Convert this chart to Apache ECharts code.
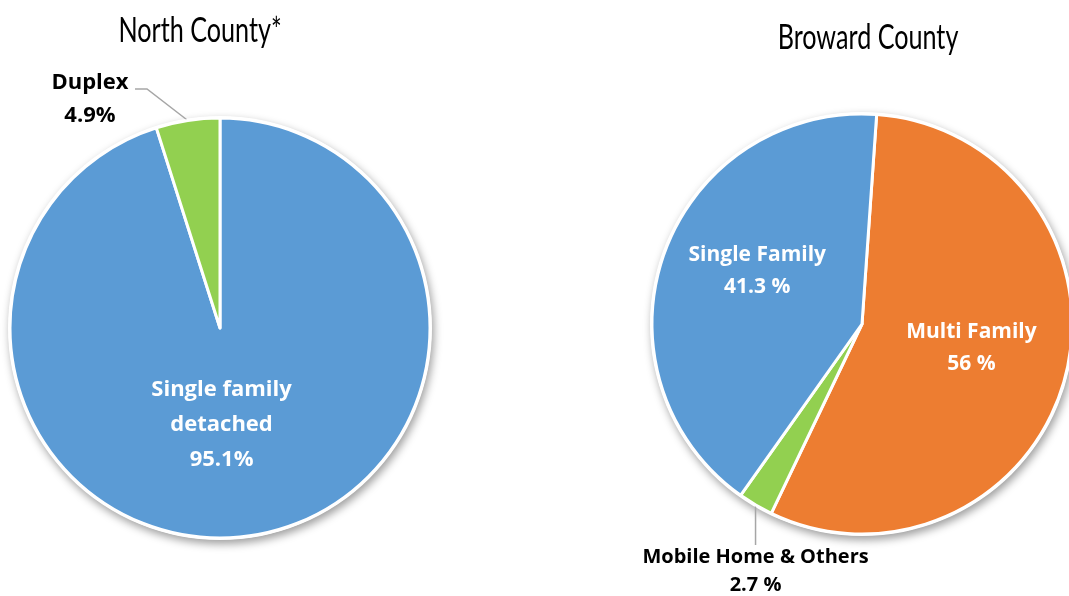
<!DOCTYPE html>
<html>
<head>
<meta charset="utf-8">
<script src="https://cdn.jsdelivr.net/npm/echarts@6/dist/echarts.min.js"></script>
<style>
  html, body { margin: 0; padding: 0; background: #ffffff; }
  #chart { width: 1069px; height: 596px; }
</style>
</head>
<body>
<div id="chart"></div>
<script>
// Housing type shares, North County vs Broward County
const northTitle = 'North County*';
const northCategories = ['Single family\ndetached', 'Duplex'];
const northValues = [95.1, 4.9];

const browardTitle = 'Broward County';
const browardCategories = ['Multi Family', 'Mobile Home & Others', 'Single Family'];
const browardValues = [56, 2.7, 41.3];

const BLUE = '#5B9BD5';
const ORANGE = '#ED7D31';
const GREEN = '#92D050';
const LEADER = '#A6A6A6';
const LABEL_FONT = '"Open Sans", Lato, "Noto Sans", sans-serif';
const TITLE_FONT = 'Lato, "Open Sans", sans-serif';

const northColors = [BLUE, GREEN];
const browardColors = [ORANGE, GREEN, BLUE];

const northCenter = [220, 328];
const browardCenter = [862, 324];
const pieRadius = 210;

// white disc with a soft drop shadow that sits behind each pie
function backing(center) {
  return {
    type: 'pie', silent: true, z: 1,
    center: center, radius: pieRadius + 2,
    label: { show: false }, labelLine: { show: false },
    emphasis: { disabled: true }, tooltip: { show: false },
    itemStyle: {
      color: '#ffffff',
      shadowBlur: 9, shadowColor: 'rgba(0,0,0,0.38)',
      shadowOffsetX: 2, shadowOffsetY: 4
    },
    data: [{ value: 1, name: '' }]
  };
}

// condensed heading drawn as a horizontally squeezed text element
function heading(text, x, y) {
  return {
    type: 'text', x: x, y: y, scaleX: 0.74, z: 10,
    style: {
      text: text, fontFamily: TITLE_FONT, fontSize: 34, fontWeight: 'normal',
      fill: '#000000', align: 'center', verticalAlign: 'middle'
    }
  };
}

const leaderLine = { show: true, lineStyle: { color: LEADER, width: 1.5 } };

const northData = northCategories.map((name, i) => {
  const item = { name: name, value: northValues[i], itemStyle: { color: northColors[i] } };
  if (name === 'Duplex') {
    item.label = { position: 'outside', color: '#000', fontSize: 22, lineHeight: 33 };
    item.labelLine = leaderLine;
  }
  return item;
});

const browardData = browardCategories.map((name, i) => {
  const item = { name: name, value: browardValues[i], itemStyle: { color: browardColors[i] } };
  if (name === 'Mobile Home & Others') {
    item.label = { position: 'outside', color: '#000', fontSize: 20, lineHeight: 28 };
    item.labelLine = leaderLine;
  }
  return item;
});

const chart = echarts.init(document.getElementById('chart'), null, { renderer: 'canvas' });

chart.setOption({
  backgroundColor: '#ffffff',
  animation: false,
  graphic: [
    heading(northTitle, 200, 31),
    heading(browardTitle, 868, 38)
  ],
  series: [
    backing(northCenter),
    {
      type: 'pie', z: 2,
      center: northCenter, radius: pieRadius,
      startAngle: 90, clockwise: true, avoidLabelOverlap: false,
      itemStyle: { borderColor: '#ffffff', borderWidth: 3 },
      emphasis: { disabled: true },
      label: {
        show: true, position: 'inside', color: '#ffffff',
        fontFamily: LABEL_FONT, fontWeight: 'bold', fontSize: 22, lineHeight: 35,
        formatter: p => p.name + '\n' + p.value + '%'
      },
      labelLine: { show: false },
      labelLayout: function (p) {
        if (p.dataIndex === 1) {
          const a = p.labelLinePoints[0];
          return {
            x: 90, y: 99, align: 'center', verticalAlign: 'middle',
            labelLinePoints: [a, [147, 89], [135, 89]]
          };
        }
        return { dx: -15, dy: -10 };
      },
      data: northData
    },
    backing(browardCenter),
    {
      type: 'pie', z: 2,
      center: browardCenter, radius: pieRadius,
      startAngle: 86, clockwise: true, avoidLabelOverlap: false,
      itemStyle: { borderColor: '#ffffff', borderWidth: 3 },
      emphasis: { disabled: true },
      label: {
        show: true, position: 'inside', color: '#ffffff',
        fontFamily: LABEL_FONT, fontWeight: 'bold', fontSize: 21, lineHeight: 32,
        formatter: p => p.name + '\n' + p.value + ' %'
      },
      labelLine: { show: false },
      labelLayout: function (p) {
        if (p.dataIndex === 1) {
          const a = p.labelLinePoints[0];
          return {
            x: a[0], y: 543, align: 'center', verticalAlign: 'top',
            labelLinePoints: [a, [a[0], 545]]
          };
        }
        if (p.dataIndex === 2) return { dx: -3, dy: -17 };
        return { dx: 5, dy: -4 };
      },
      data: browardData
    }
  ]
});
</script>
</body>
</html>
